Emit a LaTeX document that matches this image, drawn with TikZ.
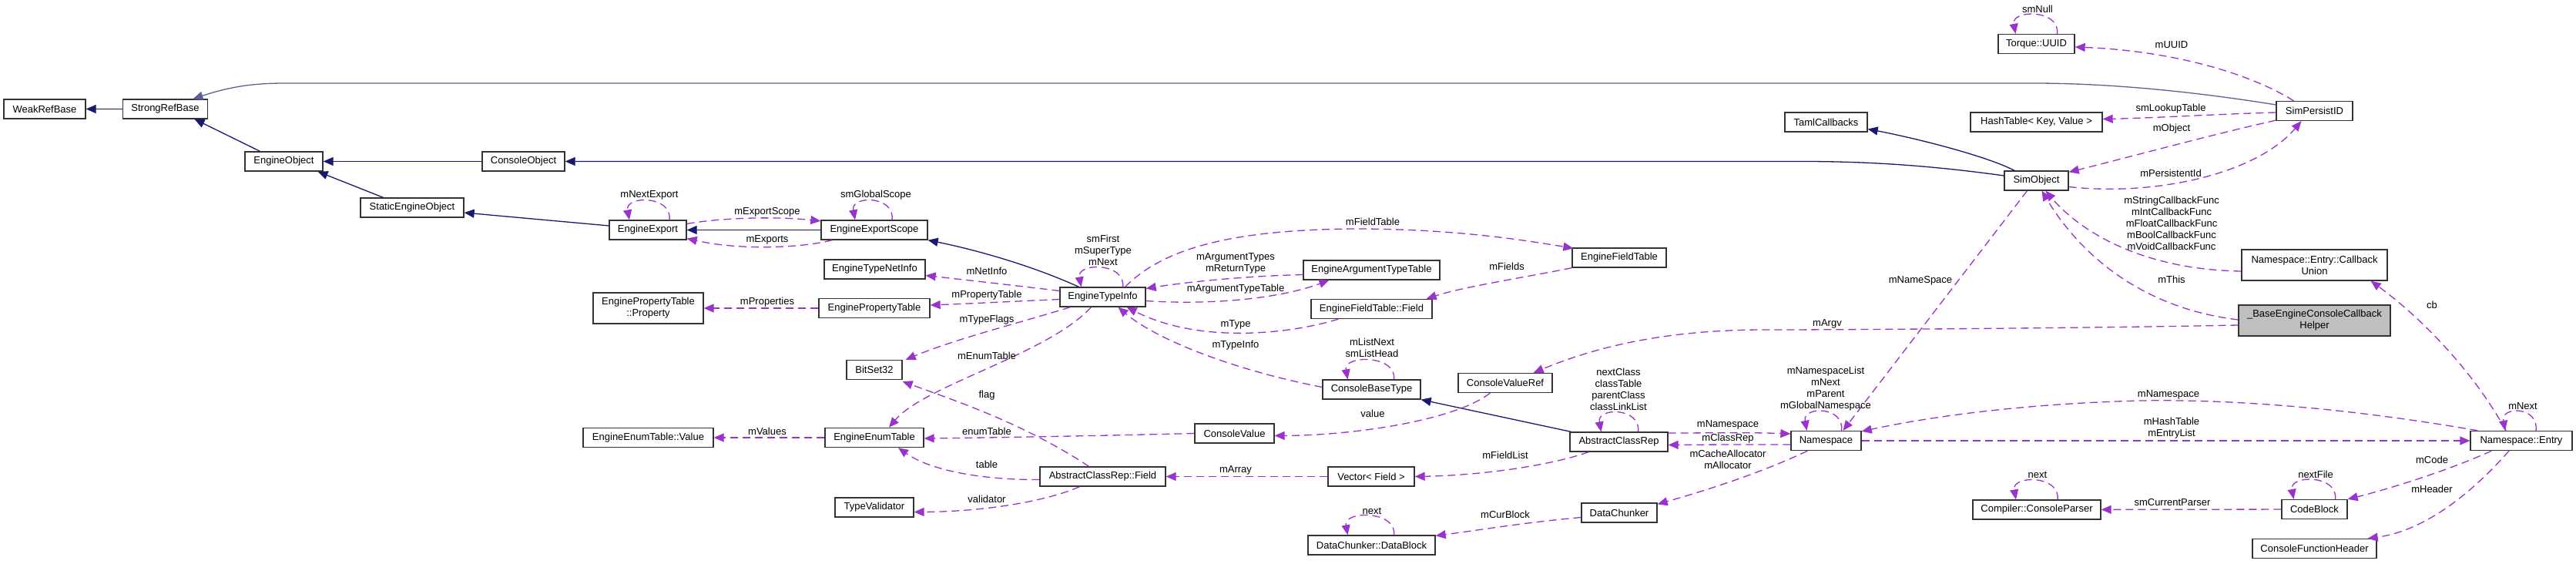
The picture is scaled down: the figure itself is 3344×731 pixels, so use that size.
\documentclass[tikz,border=0pt]{standalone}
\usepackage{fontspec}
\setmainfont{Liberation Sans}
\usetikzlibrary{arrows.meta,calc}
\definecolor{inhc}{HTML}{191970}
\definecolor{usec}{HTML}{9A32CD}
\definecolor{boxc}{HTML}{333333}
\definecolor{helpc}{HTML}{BFBFBF}
\tikzset{
  cls/.style={draw=boxc, line width=1.3pt, fill=white, minimum height=25pt, inner sep=0pt,
    font=\fontsize{13}{15}\selectfont, align=center},
  cls2/.style={cls, minimum height=40pt},
  lbl/.style={font=\fontsize{13}{15}\selectfont, inner sep=0pt, align=center},
  inh/.style={draw=inhc, line width=1.3pt, -{Triangle[length=13pt,width=11pt]}},
  use/.style={draw=usec, line width=1.3pt, dash pattern=on 10pt off 6pt, -{Triangle[length=13pt,width=11pt]}}
}
\begin{document}
\begin{tikzpicture}[x=1pt,y=-1pt]
\useasboundingbox (0,0) rectangle (3344,731);
% ---------- nodes ----------
\node[cls,minimum width=106pt] (weak) at (58,141.5) {WeakRefBase};
\node[cls,minimum width=110pt] (strong) at (214.5,141.5) {StrongRefBase};
\node[cls,minimum width=101pt] (eobj) at (368.5,209.5) {EngineObject};
\node[cls,minimum width=107pt] (cobj) at (679.5,209.5) {ConsoleObject};
\node[cls,minimum width=134pt] (seobj) at (535,269.5) {StaticEngineObject};
\node[cls,minimum width=100pt] (eexp) at (841,298.5) {EngineExport};
\node[cls,minimum width=138pt] (escope) at (1135,298.5) {EngineExportScope};
\node[cls,minimum width=131pt] (netinfo) at (1135.5,349.5) {EngineTypeNetInfo};
\node[cls2,minimum width=143pt] (prop) at (841.5,400) {EnginePropertyTable\\::Property};
\node[cls,minimum width=144pt] (ptable) at (1135,400) {EnginePropertyTable};
\node[cls,minimum width=72pt] (bitset) at (1135,480) {BitSet32};
\node[cls,minimum width=169pt] (evalue) at (841.5,568) {EngineEnumTable::Value};
\node[cls,minimum width=128pt] (etable) at (1135,568) {EngineEnumTable};
\node[cls,minimum width=102pt] (tval) at (1135,658.5) {TypeValidator};
\node[cls,minimum width=111pt] (tinfo) at (1431.5,385.5) {EngineTypeInfo};
\node[cls,minimum width=163pt] (acfield) at (1431.5,618.5) {AbstractClassRep::Field};
\node[cls,minimum width=103pt] (cvalue) at (1602.5,562.5) {ConsoleValue};
\node[cls,minimum width=177pt] (argtt) at (1780.5,350.5) {EngineArgumentTypeTable};
\node[cls,minimum width=122pt] (fieldtab) at (2102,334.5) {EngineFieldTable};
\node[cls,minimum width=157pt] (eff) at (1780.5,401) {EngineFieldTable::Field};
\node[cls,minimum width=127pt] (cbt) at (1780.5,505.5) {ConsoleBaseType};
\node[cls,minimum width=112pt] (vecf) at (1780,618.5) {Vector< Field >};
\node[cls,minimum width=165pt] (dblock) at (1780.5,707.5) {DataChunker::DataBlock};
\node[cls,minimum width=122pt] (cvref) at (1954,497) {ConsoleValueRef};
\node[cls,minimum width=127pt] (acrep) at (2101.5,573.5) {AbstractClassRep};
\node[cls,minimum width=98pt] (dchunk) at (2102,665.5) {DataChunker};
\node[cls,minimum width=99pt] (uuid) at (2643.5,57) {Torque::UUID};
\node[cls,minimum width=107pt] (taml) at (2370.5,158.5) {TamlCallbacks};
\node[cls,minimum width=171pt] (hash) at (2643.5,158.5) {HashTable< Key, Value >};
\node[cls,minimum width=83pt] (simobj) at (2643.5,234.5) {SimObject};
\node[cls,minimum width=91pt] (ns) at (2370.5,572) {Namespace};
\node[cls,minimum width=166pt] (parser) at (2644,661.5) {Compiler::ConsoleParser};
\node[cls,minimum width=99pt] (spid) at (3004.5,144) {SimPersistID};
\node[cls2,minimum width=189pt] (cbunion) at (3004.5,344) {Namespace::Entry::Callback\\Union};
\node[cls2,minimum width=197pt,fill=helpc] (helper) at (3004.5,416) {\_BaseEngineConsoleCallback\\Helper};
\node[cls,minimum width=132pt] (entry) at (3273,572) {Namespace::Entry};
\node[cls,minimum width=85pt] (codeblock) at (3004.5,661) {CodeBlock};
\node[cls,minimum width=161pt] (cfh) at (3004.5,712) {ConsoleFunctionHeader};
% ---------- inheritance ----------
\draw[inh] (strong) -- (weak);
\draw[inh] ($(eobj.north)+(-31,0)$) -- ($(strong.south)+(38,0)$);
\draw[inh] ($(seobj.north)+(-37.5,0)$) -- ($(eobj.south)+(44,0)$);
\draw[inh] ($(eexp.west)+(0,-5.5)$) -- ($(seobj.east)+(0,6.5)$);
\draw[inh] (escope) -- (eexp);
\draw[inh] ($(tinfo.north)+(-31,0)$) .. controls (1340,345) and (1270,325) .. (escope.south east);
\draw[inh] (cobj) -- (eobj);
\draw[inh] ($(simobj.west)+(0,-6.5)$) .. controls (2500,214) and (2420,209.5) .. (2340,209.5) -- (cobj.east);
\draw[inh,draw=inhc!70] ($(spid.west)+(0,-8)$) .. controls (2880,124) and (2760,108) .. (2640,108) -- (370,108) .. controls (330,108) and (300,112) .. ($(strong.north)+(36,0)$);
\draw[inh] ($(simobj.north)+(-28.5,0)$) .. controls (2580,203) and (2490,180) .. ($(taml.east)+(0,9)$);
\draw[inh] ($(acrep.north west)+(2,0)$) -- (cbt.south east);
% ---------- usage ----------
\draw[use] ($(eexp.north)+(28,0)$) .. controls +(4,-32) and +(-6,-32) .. ($(eexp.north)+(-24,0)$);
\node[lbl] (l1) at (843,253) {mNextExport};
\draw[use] ($(eexp.east)+(0,-8)$) .. controls (940,282) and (1010,281) .. ($(escope.north west)+(0,1.5)$);
\node[lbl] (l2) at (996,275) {mExportScope};
\draw[use] ($(escope.south west)+(15,0)$) .. controls (1040,322) and (960,325) .. ($(eexp.east)+(0,11)$);
\node[lbl] (l3) at (996,311) {mExports};
\draw[use] ($(escope.north)+(23,0)$) .. controls +(4,-32) and +(-6,-32) .. ($(escope.north)+(-25,0)$);
\node[lbl] (l4) at (1137,253) {smGlobalScope};
\draw[use] ($(tinfo.north)+(26,0)$) .. controls +(4,-32) and +(-6,-32) .. ($(tinfo.north)+(-28,0)$);
\node[lbl] (l5) at (1432,325) {smFirst\\mSuperType\\mNext};
\draw[use] ($(tinfo.north east)+(-27,0)$) .. controls (1510,322) and (1600,298) .. (1760,297) .. controls (1880,297) and (1970,310) .. ($(fieldtab.north west)+(2,1)$);
\node[lbl] (l6) at (1782,288) {mFieldTable};
\draw[use] ($(tinfo.west)+(0,-8)$) .. controls (1330,372) and (1260,364) .. ($(netinfo.east)+(0,8)$);
\node[lbl] (l7) at (1281,352) {mNetInfo};
\draw[use] ($(argtt.west)+(0,6)$) .. controls (1620,358) and (1540,366) .. ($(tinfo.east)+(0,-11)$);
\node[lbl] (l8) at (1604,342) {mArgumentTypes\\mReturnType};
\draw[use] ($(tinfo.east)+(0,5)$) .. controls (1570,396) and (1660,388) .. ($(argtt.south west)+(34,0)$);
\node[lbl] (l9) at (1604,375) {mArgumentTypeTable};
\draw[use] (fieldtab.south west) .. controls (1980,360) and (1900,372) .. ($(eff.north east)+(-8,0)$);
\node[lbl] (l10) at (1956,346) {mFields};
\draw[use] ($(tinfo.west)+(0,3)$) .. controls (1320,391) and (1260,394) .. ($(ptable.east)+(0,-4)$);
\node[lbl] (l11) at (1281,383) {mPropertyTable};
\draw[use] (ptable) -- (prop);
\node[lbl] (l12) at (996,392) {mProperties};
\draw[use] (etable) -- (evalue);
\node[lbl] (l50) at (996,560) {mValues};
\draw[use] ($(tinfo.south west)+(14,0)$) .. controls (1320,420) and (1240,440) .. ($(bitset.north east)+(4,0)$);
\node[lbl] (l13) at (1281,415) {mTypeFlags};
\draw[use] ($(tinfo.south)+(-15,0)$) .. controls (1360,460) and (1200,500) .. ($(etable.north)+(19,0)$);
\node[lbl] (l14) at (1281,462) {mEnumTable};
\draw[use] ($(acfield.north)+(-18,0)$) .. controls (1330,550) and (1240,520) .. ($(bitset.south east)+(0,2)$);
\node[lbl] (l15) at (1281,513) {flag};
\draw[use] (cvalue.west) .. controls (1450,565) and (1300,568) .. ($(etable.east)+(0,1)$);
\node[lbl] (l16) at (1281,560) {enumTable};
\draw[use] ($(acfield.west)+(0,4)$) .. controls (1280,623) and (1210,612) .. ($(etable.south)+(31,0)$);
\node[lbl] (l17) at (1281,603) {table};
\draw[use] ($(acfield.south)+(-30,0)$) .. controls (1360,650) and (1280,664) .. ($(tval.east)+(0,6)$);
\node[lbl] (l18) at (1281,648) {validator};
\draw[use] (vecf) -- (acfield);
\node[lbl] (l19) at (1604,610) {mArray};
\draw[use] ($(eff.south west)+(36,0)$) .. controls (1680,432) and (1560,448) .. ($(tinfo.south east)+(-25,0)$);
\node[lbl] (l20) at (1604,421) {mType};
\draw[use] ($(cbt.west)+(0,-3)$) .. controls (1600,480) and (1500,440) .. ($(tinfo.south)+(20,0)$);
\node[lbl] (l21) at (1604,448) {mTypeInfo};
\draw[use] ($(cbt.north)+(29,0)$) .. controls +(4,-32) and +(-6,-32) .. ($(cbt.north)+(-31,0)$);
\node[lbl] (l22) at (1781,451.5) {mListNext\\smListHead};
\draw[use] ($(cvref.south west)+(42,0)$) .. controls (1890,545) and (1760,565) .. ($(cvalue.east)+(0,3)$);
\node[lbl] (l23) at (1782,537) {value};
\draw[use] ($(helper.west)+(0,6)$) .. controls (2700,426) and (2400,428) .. (2290,428) .. controls (2150,428) and (2060,455) .. ($(cvref.north east)+(-25,0)$);
\node[lbl] (l24) at (2372,420) {mArgv};
\draw[use] ($(acrep.north)+(25,0)$) .. controls +(4,-32) and +(-6,-32) .. ($(acrep.north)+(-23,0)$);
\node[lbl] (l25) at (2101,505) {nextClass\\classTable\\parentClass\\classLinkList};
\draw[use] ($(acrep.east)+(0,-11.5)$) .. controls (2220,562) and (2270,561) .. ($(ns.west)+(0,-9)$);
\node[lbl] (l26) at (2243,551) {mNamespace};
\draw[use] ($(ns.west)+(0,5)$) .. controls (2270,577) and (2220,577) .. ($(acrep.east)+(0,4)$);
\node[lbl] (l27) at (2243,569) {mClassRep};
\draw[use] ($(ns.south west)+(22,0)$) .. controls (2290,612) and (2220,635) .. ($(dchunk.north east)+(0,2)$);
\node[lbl] (l28) at (2243,596.5) {mCacheAllocator\\mAllocator};
\draw[use] ($(acrep.south west)+(25,0)$) .. controls (2010,605) and (1920,617) .. (vecf.east);
\node[lbl] (l29) at (1954,591) {mFieldList};
\draw[use] ($(dblock.north)+(29,0)$) .. controls +(4,-32) and +(-6,-32) .. ($(dblock.north)+(-31,0)$);
\node[lbl] (l30) at (1781,663) {next};
\draw[use] ($(dchunk.west)+(0,6)$) .. controls (1980,678) and (1920,688) .. ($(dblock.north east)+(0,1)$);
\node[lbl] (l31) at (1954,668) {mCurBlock};
\draw[use] ($(spid.north)+(-27,0)$) .. controls (2920,95) and (2820,66) .. ($(uuid.east)+(0,4)$);
\node[lbl] (l32) at (2819,58) {mUUID};
\draw[use] ($(uuid.north)+(27,0)$) .. controls +(4,-32) and +(-6,-32) .. ($(uuid.north)+(-27,0)$);
\node[lbl] (l33) at (2645,12) {smNull};
\draw[use] ($(spid.west)+(0,2)$) .. controls (2880,148) and (2800,153) .. ($(hash.east)+(0,-4)$);
\node[lbl] (l34) at (2818,141) {smLookupTable};
\draw[use] ($(spid.south west)+(0,-1)$) .. controls (2870,175) and (2760,205) .. ($(simobj.north east)+(0,2)$);
\node[lbl] (l35) at (2819,167) {mObject};
\draw[use] ($(simobj.east)+(0,8)$) .. controls (2800,255) and (2930,225) .. ($(spid.south)+(-17,0)$);
\node[lbl] (l36) at (2818,225) {mPersistentId};
\draw[use] ($(cbunion.west)+(0,8)$) .. controls (2780,350) and (2700,300) .. ($(simobj.south)+(12,0)$);
\node[lbl] (l37) at (2819,290) {mStringCallbackFunc\\mIntCallbackFunc\\mFloatCallbackFunc\\mBoolCallbackFunc\\mVoidCallbackFunc};
\draw[use] ($(helper.west)+(0,-1)$) .. controls (2780,400) and (2700,330) .. ($(simobj.south)+(7,0)$);
\node[lbl] (l38) at (2819,363) {mThis};
\draw[use] ($(simobj.south)+(-12,0)$) -- ($(ns.north)+(22,0)$);
\node[lbl] (l39) at (2493,364) {mNameSpace};
\draw[use] ($(ns.north)+(20,0)$) .. controls +(4,-32) and +(-6,-32) .. ($(ns.north)+(-25,0)$);
\node[lbl] (l40) at (2370,505) {mNamespaceList\\mNext\\mParent\\mGlobalNamespace};
\draw[use] ($(entry.north west)+(10,0)$) .. controls (3050,530) and (2900,518) .. (2780,520) .. controls (2620,524) and (2500,542) .. ($(ns.north east)+(0,1)$);
\node[lbl] (l41) at (2815,512) {mNamespace};
\draw[use] (ns) -- (entry);
\node[lbl] (l42) at (2819,555.5) {mHashTable\\mEntryList};
\draw[use] ($(entry.north)+(-20,0)$) .. controls (3210,480) and (3140,410) .. ($(cbunion.south east)+(-22,0)$);
\node[lbl] (l43) at (3157,396) {cb};
\draw[use] ($(entry.north)+(19,0)$) .. controls +(4,-32) and +(-6,-32) .. ($(entry.north)+(-21,0)$);
\node[lbl] (l44) at (3275,527) {mNext};
\draw[use] ($(entry.south west)+(28,0)$) .. controls (3180,610) and (3100,635) .. (codeblock.north east);
\node[lbl] (l45) at (3157,597) {mCode};
\draw[use] ($(entry.south)+(-16,0)$) .. controls (3200,650) and (3140,690) .. ($(cfh.north east)+(-12,0)$);
\node[lbl] (l46) at (3157,635) {mHeader};
\draw[use] ($(codeblock.north)+(27,0)$) .. controls +(4,-32) and +(-6,-32) .. ($(codeblock.north)+(-27,0)$);
\node[lbl] (l47) at (3006,616) {nextFile};
\draw[use] (codeblock) -- (parser);
\node[lbl] (l48) at (2820,652) {smCurrentParser};
\draw[use] ($(parser.north)+(27,0)$) .. controls +(4,-32) and +(-6,-32) .. ($(parser.north)+(-27,0)$);
\node[lbl] (l49) at (2645,616) {next};
\end{tikzpicture}
\end{document}
